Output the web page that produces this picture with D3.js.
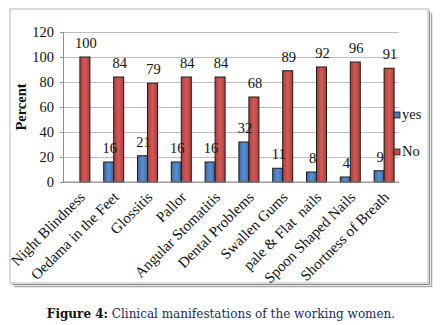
<!DOCTYPE html>
<html>
<head>
<meta charset="utf-8">
<script src="https://cdn.jsdelivr.net/npm/d3@7"></script>
<style>
  body { margin: 0; background: #fff; }
  svg { display: block; }
  text { font-family: "Liberation Serif", "Times New Roman", serif; }
</style>
</head>
<body>
<svg id="chart" width="444" height="325"></svg>
<script>
const categories = ["Night Blindness", "Oedama in the Feet", "Glossitis", "Pallor",
  "Angular Stomatitis", "Dental Problems", "Swallen Gums", "pale & Flat  nails",
  "Spoon Shaped Nails", "Shortness of Breath"];
const yes = [null, 16, 21, 16, 16, 32, 11, 8, 4, 9];
const no = [100, 84, 79, 84, 84, 68, 89, 92, 96, 91];
const yTicks = [0, 20, 40, 60, 80, 100, 120];
const seriesNames = ["yes", "No"];

const svg = d3.select("#chart");

// gradients like the office chart bars
const defs = svg.append("defs");
function grad(id, c1, c2) {
  const g = defs.append("linearGradient").attr("id", id).attr("x1", 0).attr("x2", 1).attr("y1", 0).attr("y2", 0);
  g.append("stop").attr("offset", "0%").attr("stop-color", c1);
  g.append("stop").attr("offset", "50%").attr("stop-color", c2);
  g.append("stop").attr("offset", "100%").attr("stop-color", c1);
}
grad("gBlue", "#3a6aa8", "#5a8fd0");
grad("gRed", "#b03e3b", "#d05a56");

// frame with shadow
svg.append("rect").attr("x", 10).attr("y", 9).attr("width", 418).attr("height", 274)
  .attr("fill", "#fff").attr("stroke", "#cfcfcf").attr("stroke-width", 1.5);
svg.append("path").attr("d", "M429.5,11 V284.5 H12").attr("fill", "none").attr("stroke", "#8a8a8a").attr("stroke-width", 1);
svg.append("path").attr("d", "M431.5,13 V286.5 H14").attr("fill", "none").attr("stroke", "#a8a8a8").attr("stroke-width", 1.5);

const plotL = 63, plotR = 401, plotT = 32, plotB = 182;
const x = d3.scaleBand().domain(categories).range([plotL, plotR]);
const y = d3.scaleLinear().domain([0, 120]).range([plotB, plotT]);
const bw = 10;

// gridlines
svg.append("g").attr("transform", `translate(${plotL},0)`)
  .call(d3.axisLeft(y).tickValues(yTicks).tickSize(-(plotR - 2 - plotL)).tickFormat(""))
  .call(g => g.select(".domain").remove())
  .call(g => g.selectAll("line").attr("stroke", "#bdbdbd").attr("stroke-width", 1));

// y axis with labels
svg.append("g").attr("transform", `translate(${plotL},0)`)
  .call(d3.axisLeft(y).tickValues(yTicks).tickSize(3).tickPadding(6))
  .call(g => g.select(".domain").attr("stroke", "#8c8c8c"))
  .call(g => g.selectAll("line").attr("stroke", "#8c8c8c"))
  .call(g => g.selectAll("text").attr("font-size", 14.5).attr("fill", "#111")
    .attr("font-family", "Liberation Serif"));

svg.append("text").attr("transform", "translate(26,107) rotate(-90)")
  .attr("text-anchor", "middle").attr("font-size", 14.5).attr("font-weight", "bold")
  .attr("fill", "#111").text("Percent");

// bars
const cx = d => x(d) + x.bandwidth() / 2;
const groups = svg.append("g").selectAll("g").data(categories).join("g");
groups.filter((d, i) => yes[i] != null).append("rect")
  .attr("x", d => cx(d) - bw).attr("width", bw)
  .attr("y", d => y(yes[categories.indexOf(d)]))
  .attr("height", d => plotB - y(yes[categories.indexOf(d)]))
  .attr("fill", "url(#gBlue)").attr("stroke", "#1a1a1a").attr("stroke-width", 1);
groups.append("rect")
  .attr("x", d => cx(d)).attr("width", bw)
  .attr("y", (d, i) => y(no[i]))
  .attr("height", (d, i) => plotB - y(no[i]))
  .attr("fill", "url(#gRed)").attr("stroke", "#1a1a1a").attr("stroke-width", 1);

// value labels
groups.filter((d, i) => yes[i] != null).append("text")
  .attr("x", d => cx(d) - bw / 2 + 1).attr("y", d => y(yes[categories.indexOf(d)]) - 9)
  .attr("text-anchor", "middle").attr("font-size", 14.5).attr("fill", "#111")
  .text(d => yes[categories.indexOf(d)]);
groups.append("text")
  .attr("x", d => cx(d) + bw / 2 + 1).attr("y", (d, i) => y(no[i]) - 9)
  .attr("text-anchor", "middle").attr("font-size", 14.5).attr("fill", "#111")
  .text((d, i) => no[i]);

// x axis baseline
svg.append("line").attr("x1", plotL).attr("x2", plotR - 2).attr("y1", plotB).attr("y2", plotB)
  .attr("stroke", "#8c8c8c");

// category labels
svg.append("g").selectAll("text").data(categories).join("text")
  .attr("transform", d => `translate(${cx(d) + 6},${plotB + 16}) rotate(-45)`)
  .attr("text-anchor", "end").attr("font-size", 15).attr("fill", "#111")
  .attr("xml:space", "preserve")
  .text(d => d);

// legend
const legend = svg.append("g").selectAll("g").data(seriesNames).join("g")
  .attr("transform", (d, i) => `translate(394,${112 + i * 37})`);
legend.append("rect").attr("width", 6).attr("height", 6)
  .attr("fill", (d, i) => i === 0 ? "#4a7dc0" : "#c0504d").attr("stroke", "#1a1a1a").attr("stroke-width", 0.8);
legend.append("text").attr("x", 8).attr("y", 7).attr("font-size", 14.5).attr("fill", "#111").text(d => d);

// caption
const cap = svg.append("text").attr("x", 221).attr("y", 318).attr("text-anchor", "middle")
  .style("font-family", "'DejaVu Serif'").style("font-size", "12px");
cap.append("tspan").attr("fill", "#111").style("font-weight", "bold").text("Figure 4:");
cap.append("tspan").attr("fill", "#1c2a5a").text(" Clinical manifestations of the working women.");
</script>
</body>
</html>
